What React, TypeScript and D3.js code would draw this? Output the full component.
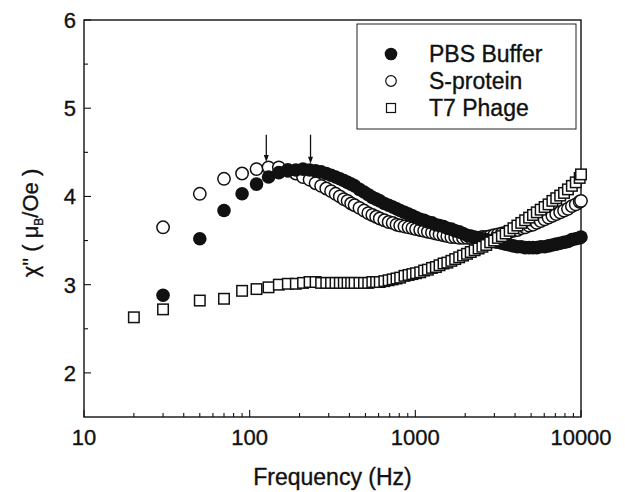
import React, { useRef, useEffect } from 'react';
import * as d3 from 'd3';

const W = 625;
const H = 492;
const FONT = '"Liberation Sans", Arial, Helvetica, sans-serif';

// measurement frequencies (Hz), shared by the three samples
const freqs = [
  20, 30, 50, 70, 90, 110, 130,
  150, 170, 190, 210, 230, 250, 270, 290, 310, 330, 350, 370, 390, 410,
  430, 460, 490, 520, 550, 580, 610,
  650, 690, 730, 770, 810, 860, 910, 960, 1010,
  1070, 1130, 1190, 1260, 1330, 1400, 1480, 1560, 1650, 1740, 1840, 1940,
  2050, 2160, 2280, 2410, 2540, 2680, 2830, 2990,
  3150, 3330, 3510, 3710, 3910, 4130, 4360, 4600, 4860,
  5130, 5410, 5710, 6030, 6370, 6720, 7090, 7490, 7900, 8340, 8810, 9300, 9820, 10000,
];

const pbsBuffer = [
  null, 2.88, 3.52, 3.84, 4.03, 4.14, 4.22,
  4.27, 4.29, 4.30, 4.31, 4.30, 4.29, 4.28, 4.26, 4.24, 4.22, 4.20, 4.18, 4.16, 4.14,
  4.12, 4.08, 4.05, 4.02, 3.99, 3.97, 3.95,
  3.92, 3.90, 3.88, 3.86, 3.84, 3.82, 3.80, 3.78, 3.76,
  3.74, 3.73, 3.71, 3.70, 3.68, 3.67, 3.66, 3.64, 3.63, 3.61, 3.60, 3.58,
  3.56, 3.55, 3.54, 3.53, 3.52, 3.51, 3.50, 3.49,
  3.48, 3.47, 3.46, 3.45, 3.44, 3.43, 3.43, 3.42, 3.42,
  3.42, 3.42, 3.43, 3.43, 3.44, 3.45, 3.46, 3.47, 3.48, 3.49, 3.51, 3.52, 3.53, 3.54,
];

const sProtein = [
  null, 3.65, 4.03, 4.20, 4.26, 4.31, 4.33,
  4.33, 4.30, 4.26, 4.22, 4.19, 4.15, 4.12, 4.09, 4.06, 4.03, 4.00, 3.97, 3.95, 3.92,
  3.90, 3.87, 3.84, 3.81, 3.79, 3.77, 3.75,
  3.73, 3.71, 3.70, 3.68, 3.67, 3.66, 3.65, 3.64, 3.63,
  3.62, 3.61, 3.60, 3.59, 3.58, 3.57, 3.56, 3.55, 3.54, 3.54, 3.53, 3.53,
  3.53, 3.53, 3.53, 3.53, 3.54, 3.54, 3.55, 3.56,
  3.57, 3.58, 3.59, 3.60, 3.61, 3.62, 3.64, 3.65, 3.67,
  3.68, 3.70, 3.72, 3.74, 3.76, 3.78, 3.80, 3.82, 3.84, 3.86, 3.89, 3.91, 3.94, 3.95,
];

const t7Phage = [
  2.63, 2.72, 2.82, 2.84, 2.93, 2.95, 2.97,
  3.00, 3.01, 3.01, 3.02, 3.03, 3.03, 3.02, 3.02, 3.02, 3.02, 3.02, 3.02, 3.02, 3.02,
  3.02, 3.02, 3.02, 3.02, 3.03, 3.03, 3.03,
  3.04, 3.05, 3.06, 3.07, 3.08, 3.10, 3.11, 3.12, 3.13,
  3.14, 3.16, 3.17, 3.19, 3.20, 3.22, 3.24, 3.25, 3.27, 3.29, 3.31, 3.33,
  3.35, 3.37, 3.39, 3.41, 3.43, 3.45, 3.48, 3.50,
  3.53, 3.55, 3.58, 3.61, 3.64, 3.67, 3.70, 3.73, 3.76,
  3.79, 3.82, 3.85, 3.88, 3.91, 3.95, 3.98, 4.01, 4.04, 4.08, 4.12, 4.16, 4.21, 4.25,
];

// arrows marking the loss peaks: [frequency, top value, tip value]
const peakArrows: [number, number, number][] = [
  [126, 4.70, 4.39],
  [233, 4.70, 4.37],
];

const xTicks = [10, 100, 1000, 10000];
const xMinor = [20, 30, 40, 50, 60, 70, 80, 90, 200, 300, 400, 500, 600, 700, 800, 900,
  2000, 3000, 4000, 5000, 6000, 7000, 8000, 9000];
const yTicks = [2, 3, 4, 5, 6];
const yMinor = [2.5, 3.5, 4.5, 5.5];

const legendItems = [
  { label: 'PBS Buffer', shape: 'filled' },
  { label: 'S-protein', shape: 'open' },
  { label: 'T7 Phage', shape: 'square' },
];

export default function App() {
  const svgRef = useRef<SVGSVGElement | null>(null);

  useEffect(() => {
    const svg = d3.select(svgRef.current);
    svg.selectAll('*').remove();

    const left = 84, right = 581, top = 20, bottom = 417;
    const x = d3.scaleLog().domain([10, 10000]).range([left, right]);
    const y = d3.scaleLinear().domain([1.5, 6]).range([bottom, top]);

    const R = 6.2;
    const S = 10.5;
    const ink = '#111';

    const pts = (vals: (number | null)[]) =>
      freqs.map((f, i) => ({ f, v: vals[i] })).filter(d => d.v != null) as { f: number; v: number }[];

    const label = (sel: any, size: number) =>
      sel.attr('font-family', FONT).attr('font-size', size)
        .attr('fill', ink).attr('stroke', ink).attr('stroke-width', 0.35);

    // frame
    svg.append('rect')
      .attr('x', left).attr('y', top)
      .attr('width', right - left).attr('height', bottom - top)
      .attr('fill', 'none').attr('stroke', ink).attr('stroke-width', 1.4);

    // ticks (inward)
    const g = svg.append('g').attr('stroke', ink).attr('stroke-width', 1.1);
    g.selectAll('.xmaj').data(xTicks).join('line')
      .attr('x1', d => x(d)).attr('x2', d => x(d))
      .attr('y1', bottom).attr('y2', bottom - 7);
    g.selectAll('.xmin').data(xMinor).join('line')
      .attr('x1', d => x(d)).attr('x2', d => x(d))
      .attr('y1', bottom).attr('y2', bottom - 4);
    g.selectAll('.ymaj').data(yTicks).join('line')
      .attr('x1', left).attr('x2', left + 7)
      .attr('y1', d => y(d)).attr('y2', d => y(d));
    g.selectAll('.ymin').data(yMinor).join('line')
      .attr('x1', left).attr('x2', left + 4)
      .attr('y1', d => y(d)).attr('y2', d => y(d));

    // tick labels
    label(svg.selectAll('.xl').data(xTicks).join('text')
      .attr('x', d => x(d)).attr('y', 445)
      .attr('text-anchor', 'middle'), 22)
      .text(d => String(d));
    label(svg.selectAll('.yl').data(yTicks).join('text')
      .attr('x', 76).attr('y', d => y(d)).attr('dy', '0.36em')
      .attr('text-anchor', 'end'), 22)
      .text(d => String(d));

    // axis titles
    label(svg.append('text')
      .attr('x', (left + right) / 2).attr('y', 485)
      .attr('text-anchor', 'middle'), 23)
      .text('Frequency (Hz)');

    const yt = label(svg.append('text')
      .attr('transform', 'translate(38,223) rotate(-90)')
      .attr('text-anchor', 'middle'), 22);
    yt.append('tspan').text('χ" ( μ');
    yt.append('tspan').attr('font-size', 12).attr('dy', 5).text('B');
    yt.append('tspan').attr('dy', -5).text('/Oe )');

    // data: S-protein, PBS buffer, T7 phage
    svg.append('g').selectAll('circle').data(pts(sProtein)).join('circle')
      .attr('cx', d => x(d.f)).attr('cy', d => y(d.v)).attr('r', R)
      .attr('fill', '#fff').attr('stroke', ink).attr('stroke-width', 1.5);

    svg.append('g').selectAll('circle').data(pts(pbsBuffer)).join('circle')
      .attr('cx', d => x(d.f)).attr('cy', d => y(d.v)).attr('r', R + 0.6)
      .attr('fill', ink);

    svg.append('g').selectAll('rect').data(pts(t7Phage)).join('rect')
      .attr('x', d => x(d.f) - S / 2).attr('y', d => y(d.v) - S / 2)
      .attr('width', S).attr('height', S)
      .attr('fill', '#fff').attr('stroke', ink).attr('stroke-width', 1.5);

    // peak arrows
    const arr = svg.append('g');
    peakArrows.forEach(([f, v0, v1]) => {
      const ax = x(f);
      arr.append('line')
        .attr('x1', ax).attr('x2', ax).attr('y1', y(v0)).attr('y2', y(v1) - 5)
        .attr('stroke', ink).attr('stroke-width', 1.3);
      arr.append('path')
        .attr('d', `M${ax - 2.5},${y(v1) - 7} L${ax + 2.5},${y(v1) - 7} L${ax},${y(v1)} Z`)
        .attr('fill', ink);
    });

    // legend
    const lg = svg.append('g');
    lg.append('rect')
      .attr('x', 357).attr('y', 24).attr('width', 219).attr('height', 105)
      .attr('fill', '#fff').attr('stroke', '#222').attr('stroke-width', 1);
    legendItems.forEach((it, i) => {
      const cy = 54 + i * 27;
      if (it.shape === 'filled') {
        lg.append('circle').attr('cx', 391).attr('cy', cy).attr('r', 6.3).attr('fill', ink);
      } else if (it.shape === 'open') {
        lg.append('circle').attr('cx', 391).attr('cy', cy).attr('r', 5.3)
          .attr('fill', '#fff').attr('stroke', ink).attr('stroke-width', 1.2);
      } else {
        lg.append('rect').attr('x', 386.5).attr('y', cy - 4.5).attr('width', 9).attr('height', 9)
          .attr('fill', '#fff').attr('stroke', ink).attr('stroke-width', 1.2);
      }
      label(lg.append('text')
        .attr('x', 429).attr('y', cy).attr('dy', '0.36em'), 23)
        .text(it.label);
    });
  }, []);

  return (
    <div style={{ position: 'absolute', left: 0, top: 0, width: W, height: H, background: '#fff' }}>
      <svg ref={svgRef} width={W} height={H} />
    </div>
  );
}
